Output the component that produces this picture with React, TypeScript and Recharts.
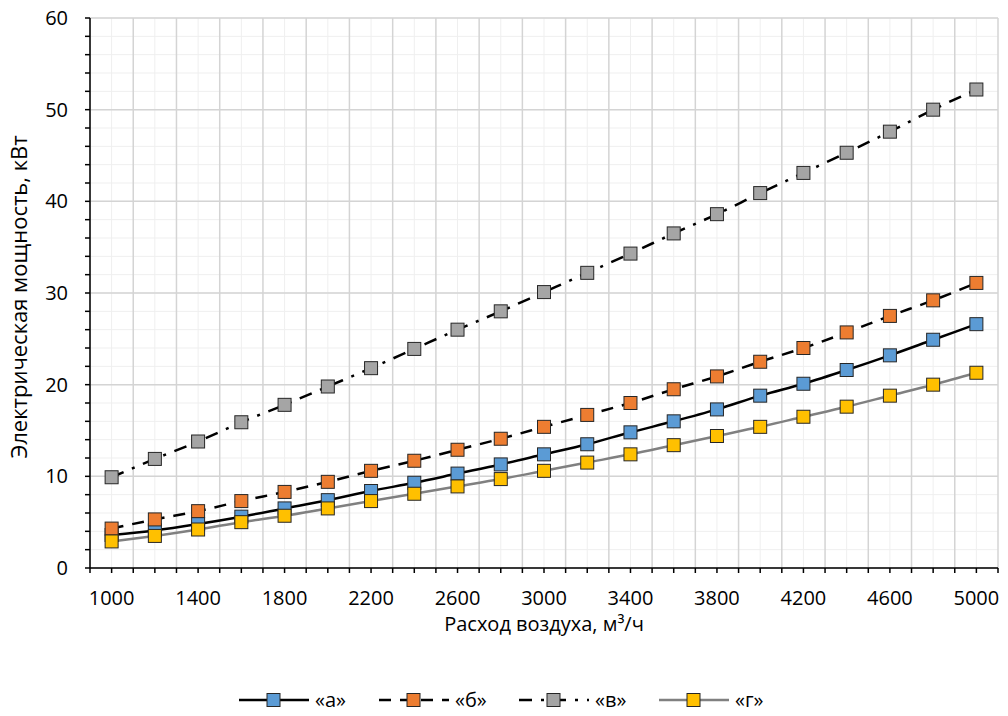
import React from 'react';
import { LineChart, Line, XAxis, YAxis, CartesianGrid, Legend } from 'recharts';

const xValues = [1000, 1200, 1400, 1600, 1800, 2000, 2200, 2400, 2600, 2800, 3000, 3200, 3400, 3600, 3800, 4000, 4200, 4400, 4600, 4800, 5000];
const seriesA = [3.6, 4.1, 4.8, 5.6, 6.5, 7.4, 8.4, 9.3, 10.3, 11.3, 12.4, 13.5, 14.8, 16.0, 17.3, 18.8, 20.1, 21.6, 23.2, 24.9, 26.6];
const seriesB = [4.3, 5.3, 6.2, 7.3, 8.3, 9.4, 10.6, 11.7, 12.9, 14.1, 15.4, 16.7, 18.0, 19.5, 20.9, 22.5, 24.0, 25.7, 27.5, 29.2, 31.1];
const seriesV = [9.9, 11.9, 13.8, 15.9, 17.8, 19.8, 21.8, 23.9, 26.0, 28.0, 30.1, 32.2, 34.3, 36.5, 38.6, 40.9, 43.1, 45.3, 47.6, 50.0, 52.2];
const seriesG = [2.9, 3.5, 4.2, 5.0, 5.7, 6.5, 7.3, 8.1, 8.9, 9.7, 10.6, 11.5, 12.4, 13.4, 14.4, 15.4, 16.5, 17.6, 18.8, 20.0, 21.3];

const seriesNames = ['«а»', '«б»', '«в»', '«г»'];
const xLabelTicks = [1000, 1400, 1800, 2200, 2600, 3000, 3400, 3800, 4200, 4600, 5000];
const yMajorTicks = [0, 10, 20, 30, 40, 50, 60];
const yMinorTicks = [0, 2, 4, 6, 8, 10, 12, 14, 16, 18, 20, 22, 24, 26, 28, 30, 32, 34, 36, 38, 40, 42, 44, 46, 48, 50, 52, 54, 56, 58, 60];
const xTitle = 'Расход воздуха, м³/ч';
const yTitle = 'Электрическая мощность, кВт';

const data = xValues.map((x, i) => ({ x, a: seriesA[i], b: seriesB[i], v: seriesV[i], g: seriesG[i] }));

// category band boundaries (half a step either side of each category)
const step = xValues[1] - xValues[0];
const xBoundaries = [...xValues.map((v) => v - step / 2), xValues[xValues.length - 1] + step / 2];
const xAllTicks = [...xBoundaries, ...xValues].sort((p, q) => p - q);

const FONT = '"Open Sans", "Noto Sans", sans-serif';

const styles = [
  { key: 'a', fill: '#5B9BD5', stroke: '#000000', dash: undefined as string | undefined },
  { key: 'b', fill: '#ED7D31', stroke: '#000000', dash: '12 9' },
  { key: 'v', fill: '#A5A5A5', stroke: '#000000', dash: '13 9 3 9' },
  { key: 'g', fill: '#FFC000', stroke: '#808080', dash: undefined as string | undefined },
];

const makeDot = (fill: string) => (props: any) => {
  const { cx, cy, index } = props;
  if (cx == null || cy == null) return <g key={index} />;
  const s = 13;
  return (
    <rect
      key={index}
      x={cx - s / 2}
      y={cy - s / 2}
      width={s}
      height={s}
      fill={fill}
      stroke="#262626"
      strokeWidth={1}
    />
  );
};

const renderLegend = () => (
  <div style={{ display: 'flex', justifyContent: 'center', alignItems: 'center', fontFamily: FONT, fontSize: 20, color: '#000', lineHeight: '20px' }}>
    {styles.map((s, i) => (
      <div key={s.key} style={{ display: 'flex', alignItems: 'center', width: i < 3 ? 140 : 110 }}>
        <svg width={70} height={16} style={{ flex: 'none' }}>
          <line x1={0} y1={8} x2={70} y2={8} stroke={s.stroke} strokeWidth={2.5} strokeDasharray={s.dash} />
          <rect x={28} y={1.5} width={13} height={13} fill={s.fill} stroke="#262626" strokeWidth={1} />
        </svg>
        <span style={{ marginLeft: 6 }}>{seriesNames[i]}</span>
      </div>
    ))}
  </div>
);

const xFmt = (v: number) => (xLabelTicks.includes(v) ? String(v) : '');
const yFmt = (v: number) => (yMajorTicks.includes(v) ? String(v) : '');

export default function App() {
  return (
    <div style={{ position: 'absolute', left: 0, top: 0, width: 1008, height: 716, background: '#fff' }}>
      <LineChart width={1008} height={716} data={data} margin={{ top: 18, right: 10, left: 0, bottom: 78 }}>
        <CartesianGrid stroke="#EFEFEF" strokeWidth={1} verticalValues={xValues} horizontalValues={yMinorTicks} />
        <CartesianGrid stroke="#D4D4D4" strokeWidth={1.5} verticalValues={xBoundaries} horizontalValues={yMajorTicks} />
        <XAxis
          dataKey="x"
          type="number"
          domain={[xBoundaries[0], xBoundaries[xBoundaries.length - 1]]}
          ticks={xAllTicks}
          interval={0}
          tickFormatter={xFmt}
          height={70}
          tickSize={5}
          tickMargin={18}
          axisLine={{ stroke: '#000', strokeWidth: 1.5 }}
          tickLine={{ stroke: '#000', strokeWidth: 1.5 }}
          tick={{ fill: '#000', fontSize: 20, fontFamily: FONT }}
          label={{
            content: (p: any) => {
              const vb = p.viewBox || {};
              return (
                <text x={vb.x + vb.width / 2} y={vb.y + 63} textAnchor="middle" fontFamily={FONT} fontSize={20} fill="#000">
                  {xTitle}
                </text>
              );
            },
          }}
        />
        <YAxis
          type="number"
          domain={[0, 60]}
          ticks={yMinorTicks}
          interval={0}
          tickFormatter={yFmt}
          width={90}
          tickSize={5}
          tickMargin={17}
          axisLine={{ stroke: '#000', strokeWidth: 1.5 }}
          tickLine={{ stroke: '#000', strokeWidth: 1.5 }}
          tick={{ fill: '#000', fontSize: 20, fontFamily: FONT }}
          label={{
            content: () => (
              <text
                x={0}
                y={0}
                transform="translate(27, 297) rotate(-90)"
                textAnchor="middle"
                fontFamily={FONT}
                fontSize={22}
                fill="#000"
              >
                {yTitle}
              </text>
            ),
          }}
        />
        {styles.map((s, i) => (
          <Line
            key={s.key}
            type="monotone"
            dataKey={s.key}
            name={seriesNames[i]}
            stroke={s.stroke}
            strokeWidth={2.5}
            strokeDasharray={s.dash}
            dot={makeDot(s.fill)}
            activeDot={false}
            isAnimationActive={false}
          />
        ))}
        <Legend
          layout="horizontal"
          verticalAlign="middle"
          align="center"
          content={renderLegend}
          wrapperStyle={{ top: 690, left: 0, width: 1008 }}
        />
      </LineChart>
    </div>
  );
}
